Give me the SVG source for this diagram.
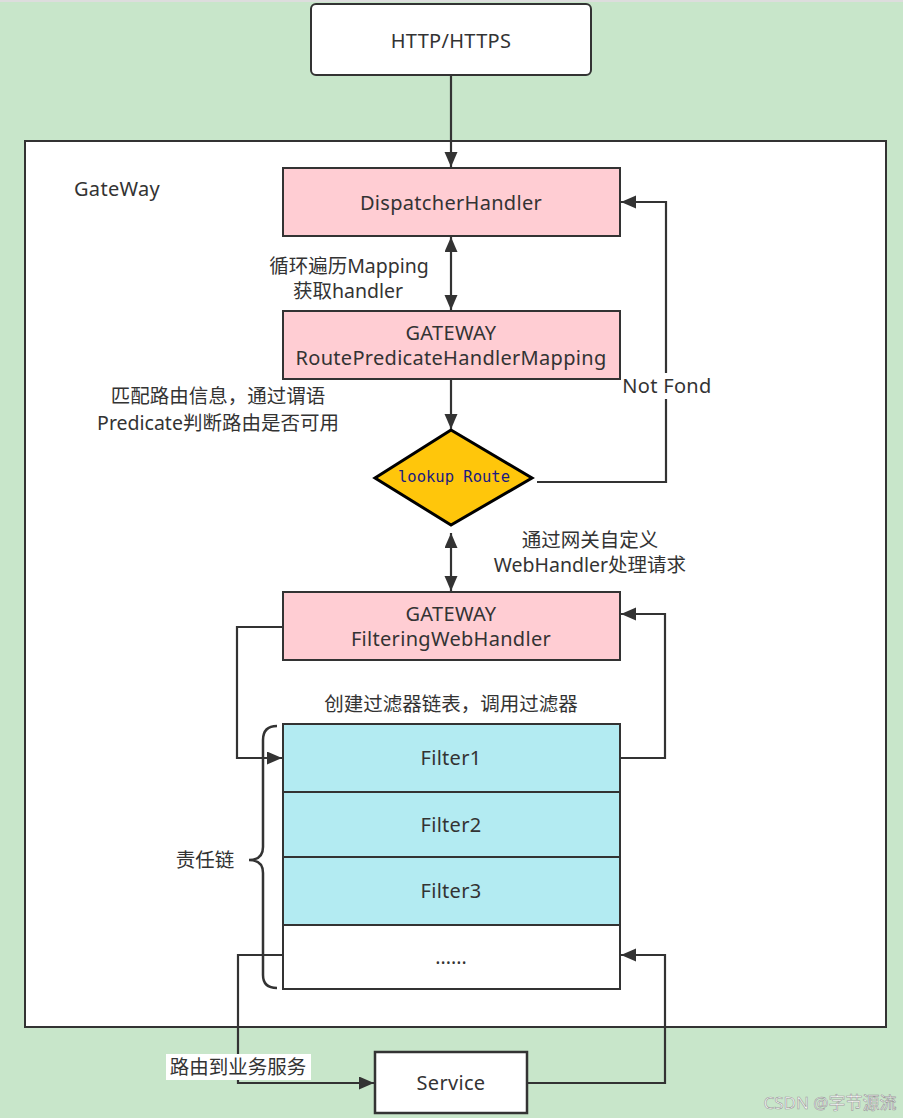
<svg xmlns="http://www.w3.org/2000/svg" width="903" height="1118" viewBox="0 0 903 1118">
<style>
.t{font-family:"Noto Sans","Noto Sans CJK SC",sans-serif;font-size:19.5px;fill:#333;text-anchor:middle;dominant-baseline:central}
.w{font-size:20px;letter-spacing:0.3px}
.box{stroke:#333;stroke-width:2}
.pink{fill:#FFCDD3}
.cyan{fill:#B3EBF2}
.ln{fill:none;stroke:#333;stroke-width:2.2}
</style>
<defs>
<marker id="ah" markerUnits="userSpaceOnUse" markerWidth="17" markerHeight="14" refX="15" refY="6.5" orient="auto-start-reverse"><path d="M0,0 L15,6.5 L0,13 Z" fill="#333"/></marker>
</defs>
<rect x="0" y="0" width="903" height="1118" fill="#C8E6CA"/>
<rect x="0" y="0" width="903" height="2" fill="#DDDDDD"/>
<g id="gateway">
<rect x="25" y="141" width="861" height="886" fill="#FFFFFF" class="box"/>
<text class="t w" x="117" y="188">GateWay</text>
</g>
<g id="http">
<rect x="311" y="4" width="280" height="71" rx="5" fill="#FFFFFF" class="box"/>
<text class="t w" x="451" y="40">HTTP/HTTPS</text>
</g>
<g id="dispatcher">
<rect x="283" y="168" width="337" height="68" class="box pink"/>
<text class="t w" x="451" y="202">DispatcherHandler</text>
</g>
<g id="mapping">
<rect x="283" y="311" width="337" height="68" class="box pink"/>
<text class="t w" x="451" y="332">GATEWAY</text>
<text class="t w" x="451" y="357">RoutePredicateHandlerMapping</text>
</g>
<g id="lookup">
<polygon points="451,430 532,478 451,525 375,478" fill="#FFC60B" stroke="#000" stroke-width="3"/>
<text x="454" y="477" font-family="'DejaVu Sans Mono','Liberation Mono',monospace" font-size="15.5" fill="#1a1a80" text-anchor="middle" dominant-baseline="central">lookup Route</text>
</g>
<g id="filtering">
<rect x="283" y="592" width="337" height="68" class="box pink"/>
<text class="t w" x="451" y="613">GATEWAY</text>
<text class="t w" x="451" y="638">FilteringWebHandler</text>
</g>
<g id="filter1">
<rect x="283" y="724" width="337" height="68" class="box cyan"/>
<text class="t w" x="451" y="757">Filter1</text>
</g>
<g id="filter2">
<rect x="283" y="792" width="337" height="65" class="box cyan"/>
<text class="t w" x="451" y="824">Filter2</text>
</g>
<g id="filter3">
<rect x="283" y="857" width="337" height="68" class="box cyan"/>
<text class="t w" x="451" y="890">Filter3</text>
</g>
<g id="more">
<rect x="283" y="925" width="337" height="64" fill="#FFFFFF" class="box"/>
<text class="t" x="451" y="956">......</text>
</g>
<g id="service">
<rect x="375" y="1052" width="152" height="61" fill="#FFFFFF" stroke="#333" stroke-width="2.5"/>
<text class="t w" x="451" y="1082">Service</text>
</g>
<g id="chain">
<path d="M277,726 Q263,726 263,740 L263,847 Q263,860 249,860 Q263,860 263,873 L263,975 Q263,988 277,988" fill="none" stroke="#333" stroke-width="2.5"/>
<text class="t" x="205" y="859">责任链</text>
</g>
<g id="connectors">
<line class="ln" x1="451" y1="75" x2="451" y2="167" marker-end="url(#ah)"/>
<line class="ln" x1="451" y1="237" x2="451" y2="310" marker-start="url(#ah)" marker-end="url(#ah)"/>
<line class="ln" x1="451" y1="379" x2="451" y2="429" marker-end="url(#ah)"/>
<polyline class="ln" points="537,482 666,482 666,202 621,202" marker-end="url(#ah)"/>
<line class="ln" x1="451" y1="533" x2="451" y2="591" marker-start="url(#ah)" marker-end="url(#ah)"/>
<polyline class="ln" points="283,627 237,627 237,758 282,758" marker-end="url(#ah)"/>
<polyline class="ln" points="620,758 665,758 665,614 621,614" marker-end="url(#ah)"/>
<polyline class="ln" points="283,955 238,955 238,1083 374,1083" marker-end="url(#ah)"/>
<polyline class="ln" points="527,1083 665,1083 665,955 621,955" marker-end="url(#ah)"/>
</g>
<g id="labels">
<text class="t" x="349" y="265">循环遍历Mapping</text>
<text class="t" x="348" y="290">获取handler</text>
<text class="t" x="218" y="395">匹配路由信息，通过谓语</text>
<text class="t" x="218" y="422">Predicate判断路由是否可用</text>
<rect x="622" y="373" width="90" height="26" fill="#FFFFFF"/>
<text class="t w" x="667" y="385" fill="#2a2a50">Not Fond</text>
<text class="t" x="590" y="539">通过网关自定义</text>
<text class="t" x="590" y="564">WebHandler处理请求</text>
<text class="t" x="451" y="703">创建过滤器链表，调用过滤器</text>
<rect x="166" y="1054" width="145" height="26" fill="#FFFFFF"/>
<text class="t" x="238" y="1066">路由到业务服务</text>
<text x="830" y="1102" font-family="'Noto Sans','Noto Sans CJK SC',sans-serif" font-size="17" fill="#FFFFFF" stroke="#999" stroke-width="0.6" text-anchor="middle" dominant-baseline="central">CSDN @字节源流</text>
</g>
</svg>
